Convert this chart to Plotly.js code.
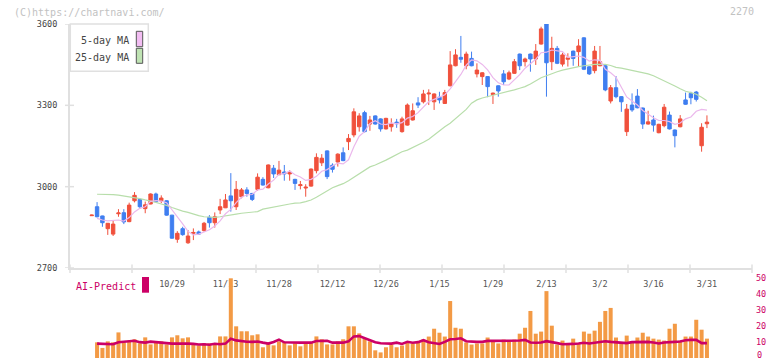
<!DOCTYPE html>
<html><head><meta charset="utf-8">
<script src="https://cdn.plot.ly/plotly-3.0.1.min.js"></script>
<style>html,body{margin:0;padding:0;background:#fff}#chart{width:772px;height:361px}</style>
</head><body><div id="chart"></div>
<script>
const dates = ["10/7","10/8","10/9","10/10","10/14","10/15","10/16","10/17","10/20","10/21","10/22","10/23","10/24","10/27","10/28","10/29","10/30","10/31",
"11/4","11/5","11/6","11/7","11/10","11/11","11/12","11/13","11/14","11/17","11/18","11/19","11/20","11/21","11/25","11/26","11/27","11/28",
"12/1","12/2","12/3","12/4","12/5","12/8","12/9","12/10","12/11","12/12","12/15","12/16","12/17","12/18","12/19","12/22","12/23","12/24","12/25","12/26",
"12/29","12/30","1/5","1/6","1/7","1/8","1/9","1/13","1/14","1/15","1/16","1/19","1/20","1/21","1/22","1/23","1/26","1/27","1/28","1/29",
"1/30","2/2","2/3","2/4","2/5","2/6","2/9","2/10","2/12","2/13","2/16","2/17","2/18","2/19","2/20","2/24","2/25","2/26","2/27","3/2",
"3/3","3/4","3/5","3/6","3/9","3/10","3/11","3/12","3/13","3/16","3/17","3/18","3/19","3/23","3/24","3/25","3/26","3/27","3/30","3/31"];
const tickLabels = ["10/29","11/13","11/28","12/12","12/26","1/15","1/29","2/13","3/2","3/16","3/31"];
const priceTicks = [2700,3000,3300,3600];
const volumeTicks = [0,10,20,30,40,50];

const openP = [2893,2926,2892,2845,2825,2900,2904,2871,2948,2953,2919,2936,2973,2948,2948,2895,2806,2845,2793,2828,
2833,2838,2887,2867,2914,2922,2966,2926,2963,2988,2975,2990,3027,2996,3068,3044,3054,3047,3027,3004,
2995,3002,3059,3088,3132,3079,3091,3125,3166,3191,3221,3273,3231,3261,3250,3213,3221,3238,3203,3227,
3246,3309,3313,3342,3313,3330,3307,3372,3446,3477,3446,3473,3416,3406,3406,3340,3372,3416,3397,3418,
3489,3461,3489,3471,3526,3600,3461,3510,3452,3470,3500,3498,3549,3442,3428,3446,3446,3316,3365,3332,
3203,3301,3334,3290,3231,3246,3199,3225,3264,3209,3221,3320,3344,3349,3151,3232];
const highP = [2897,2943,2893,2866,2874,2917,2917,2941,2980,2955,2945,2975,2978,2968,2950,2896,2836,2852,2840,2846,
2838,2870,2895,2905,2955,2973,3050,3021,2995,2998,2977,3049,3035,3082,3080,3095,3080,3061,3029,3021,
3009,3067,3123,3120,3134,3086,3123,3145,3194,3289,3271,3280,3261,3263,3252,3254,3252,3250,3258,3307,
3307,3330,3357,3359,3344,3350,3357,3500,3507,3556,3498,3498,3455,3422,3408,3347,3374,3430,3428,3471,
3491,3476,3491,3526,3590,3602,3553,3519,3494,3492,3502,3544,3551,3444,3519,3519,3448,3375,3408,3334,
3305,3344,3360,3292,3280,3262,3232,3305,3277,3211,3264,3347,3350,3353,3234,3263];
const lowP = [2892,2887,2852,2822,2818,2889,2862,2869,2942,2919,2902,2935,2944,2939,2893,2808,2793,2819,2789,2803,
2822,2834,2849,2849,2899,2921,2908,2914,2957,2963,2947,2985,3004,2994,3032,3043,3022,3022,2988,2990,
2963,3000,3049,3076,3028,3052,3074,3094,3135,3182,3203,3200,3206,3229,3203,3211,3203,3217,3199,3225,
3244,3290,3307,3301,3283,3307,3305,3370,3444,3457,3433,3444,3403,3375,3330,3305,3332,3375,3393,3416,
3430,3443,3424,3449,3524,3332,3430,3452,3443,3443,3446,3443,3430,3412,3418,3444,3352,3307,3326,3276,
3187,3276,3289,3213,3229,3203,3197,3219,3211,3145,3219,3302,3304,3314,3129,3216];
const closeP = [2895,2889,2867,2865,2862,2903,2870,2932,2968,2926,2933,2973,2945,2958,2895,2810,2828,2823,2818,2831,
2825,2865,2867,2889,2926,2951,2948,2990,2988,2975,2953,3035,3006,3080,3047,3061,3047,3053,3012,3007,
2998,3065,3108,3105,3037,3064,3120,3096,3178,3276,3261,3203,3246,3231,3213,3252,3231,3232,3250,3301,
3280,3301,3342,3345,3342,3320,3347,3449,3486,3470,3489,3446,3430,3420,3369,3345,3353,3387,3420,3461,
3446,3471,3471,3500,3582,3457,3510,3455,3486,3475,3473,3519,3433,3416,3500,3461,3357,3365,3332,3313,
3286,3283,3291,3231,3239,3227,3230,3293,3213,3188,3250,3304,3328,3322,3219,3238];

const ma5Head = [null,2883,2877,2874];
const ma25 = [null,2972,2972,2972,2971,2969,2966,2963,2960,2956,2951,2947,2942,2936,2931,2923,2916,2910,2905,2898,
2893,2889,2887,2887,2889,2893,2896,2899,2902,2904,2905,2908,2917,2921,2926,2930,2933,2936,2939,2940,
2945,2951,2961,2973,2984,2996,3004,3011,3022,3035,3047,3061,3073,3080,3088,3098,3108,3118,3129,3135,
3144,3154,3164,3175,3191,3205,3221,3234,3250,3267,3285,3308,3320,3327,3332,3337,3341,3347,3350,3357,
3363,3369,3379,3391,3402,3409,3418,3424,3430,3435,3439,3443,3446,3449,3451,3451,3451,3447,3440,3437,
3433,3429,3426,3420,3416,3409,3400,3390,3381,3371,3361,3352,3347,3341,3330,3317];

const volume = [null,9.8,6.3,10.4,9.8,16,9.8,10.4,11.7,9.2,12.9,8.5,9.8,10.4,8.5,12.9,14.2,12.3,12.9,8.5,
7.9,9.2,9.2,8.5,13.5,13.5,49.8,19.8,16.7,16.7,14.2,14.8,6.7,9.2,7.9,10.4,9.8,7.9,9.2,7.3,
9.8,9.8,13.5,11.7,8.5,8.5,10.4,11.7,19.8,19.8,15.4,12.3,10.4,4.8,3.5,6.7,8.5,6.7,7.8,9.7,
9.1,9.7,11.5,13.4,18.3,15.8,13.4,35.6,18.9,18.3,9.7,8.4,9.1,9.1,12.8,10.9,9.1,11.5,10.9,11.5,
15.2,18.9,29.4,15.2,16.5,41.8,20.2,8.4,10.9,8.4,12.1,9.1,16.5,15.2,17.1,22.6,29.4,31.3,12.8,9.7,
14,9.7,12.8,15.8,13.4,12.1,11.5,10.9,18.3,21.4,10.9,13.4,13.4,23.9,17.7,12.1];
const aiPredict = [null,9.0,8.8,8.6,8.6,9.8,10.2,10.6,10.8,9.9,9.6,10.2,9.8,9.6,9.0,9.0,9.0,9.2,9.0,8.8,
8.4,8.6,8.3,8.9,8.6,9.0,12.0,11.0,10.5,10.2,10.1,10.3,9.6,9.0,10.0,11.5,9.8,9.6,9.6,9.6,
9.6,9.6,10.6,10.8,10.8,9.6,9.6,9.6,10.4,13.5,13.7,12.5,11.0,9.8,9.2,9.0,9.0,9.6,8.8,10.1,
9.5,9.9,11.1,9.9,9.3,8.8,10.1,11.7,11.9,12.3,10.5,10.1,10.1,10.1,10.7,10.7,10.7,11.1,10.9,11.1,
10.9,11.3,9.7,9.5,9.7,10.5,10.1,9.3,8.6,8.6,8.8,9.1,9.5,9.1,9.7,10.1,10.5,10.1,9.7,9.3,
9.3,9.9,10.1,10.1,10.1,9.7,9.1,9.7,9.7,10.1,10.3,11.1,11.3,11.3,9.3,9.3];

// 5-day moving average of the closes (first points)
const ma5 = closeP.map((c, i) => i < 4 ? ma5Head[i] :
  Math.round((closeP[i] + closeP[i-1] + closeP[i-2] + closeP[i-3] + closeP[i-4]) / 5));

const W = 772, H = 361, L = 70, R = 20;
const px = v => (v - L) / (W - L - R);
const py = v => (H - v) / H;
const MONO = 'DejaVu Sans Mono, monospace';
const RED = '#f0503c', BLUE = '#3f7ef0', GRID = '#e0e0e0', MAGENTA = '#cc0066';

const traces = [
  {type:'scatter', mode:'lines', x:dates, y:ma25, line:{color:'#b8deab', width:1.2}, hoverinfo:'none', xaxis:'x', yaxis:'y'},
  {type:'scatter', mode:'lines', x:dates, y:ma5, line:{color:'#ebb8ec', width:1.2}, hoverinfo:'none', xaxis:'x', yaxis:'y'},
  {type:'candlestick', x:dates, open:openP, high:highP, low:lowP, close:closeP, xaxis:'x', yaxis:'y',
   increasing:{line:{color:RED, width:1}, fillcolor:RED},
   decreasing:{line:{color:BLUE, width:1}, fillcolor:BLUE},
   whiskerwidth:0, hoverinfo:'none'},
  {type:'bar', x:dates, y:volume, xaxis:'x', yaxis:'y2', marker:{color:'#f39a45', line:{width:0}}, width:0.75, hoverinfo:'none'},
  {type:'scatter', mode:'lines', x:dates, y:aiPredict, xaxis:'x', yaxis:'y2', line:{color:MAGENTA, width:2.6}, hoverinfo:'none'}
];

const shapes = [];
for (let k = 0; k <= 11; k++) {
  shapes.push({type:'line', xref:'paper', yref:'paper', x0:k/11, x1:k/11, y0:py(264.5), y1:py(273), line:{color:GRID, width:1.5}});
}
priceTicks.forEach(v => shapes.push({type:'line', xref:'paper', yref:'y', x0:px(65), x1:px(74), y0:v, y1:v, line:{color:GRID, width:1.5}}));
shapes.push({type:'rect', xref:'paper', yref:'paper', x0:px(70.3), x1:px(148.3), y0:py(71.3), y1:py(24), line:{color:GRID, width:1.5}, fillcolor:'#ffffff', layer:'above'});
shapes.push({type:'rect', xref:'paper', yref:'paper', x0:px(136.3), x1:px(142.7), y0:py(46.7), y1:py(31.3), line:{color:'#555', width:1}, fillcolor:'#f2bdf2', layer:'above'});
shapes.push({type:'rect', xref:'paper', yref:'paper', x0:px(136.3), x1:px(142.7), y0:py(63.3), y1:py(48.3), line:{color:'#555', width:1}, fillcolor:'#bfe3b3', layer:'above'});
shapes.push({type:'rect', xref:'paper', yref:'paper', x0:px(142), x1:px(149), y0:py(292.7), y1:py(277), line:{width:0}, fillcolor:MAGENTA});

const ann = (text, x, y, anchor, color, size, yanchor) => ({text, xref:'paper', yref:'paper', x:px(x), y:py(y), xanchor:anchor, yanchor:yanchor || 'middle', showarrow:false, borderpad:0, font:{family:MONO, size, color}});
const annotations = [
  ann('(C)https://chartnavi.com/', 13, 12, 'left', '#c2c2c2', 10),
  ann('2270', 755, 11, 'right', '#c2c2c2', 10),
  ann('5-day MA', 129.5, 40.5, 'right', '#444', 10),
  ann('25-day MA', 129.5, 57, 'right', '#444', 10),
  ann('AI-Predict', 75, 286, 'left', MAGENTA, 10),
  // the volume axis' bottom label sits on the picture's edge: place it inside
  ann(String(volumeTicks[0]), 755.5, 361, 'left', MAGENTA, 8.5, 'bottom')
];

const layout = {
  width:W, height:H, margin:{l:L, r:R, t:0, b:0}, paper_bgcolor:'#fff', plot_bgcolor:'#fff',
  showlegend:false, dragmode:false, boxgap:0.36, boxgroupgap:0,
  xaxis:{type:'category', range:[-4.06,123.42], domain:[0,1], anchor:'y', showline:true, linecolor:GRID, linewidth:2,
    tickmode:'array', tickvals:tickLabels, ticktext:tickLabels, ticks:'', showgrid:false, zeroline:false,
    tickfont:{family:MONO, size:8.5, color:'#555'}, ticklabelstandoff:7, rangeslider:{visible:false}, fixedrange:true},
  yaxis:{domain:[py(268), py(24)], range:[2700,3600], tickmode:'array', tickvals:priceTicks, ticks:'',
    showline:true, linecolor:GRID, linewidth:2, showgrid:false, zeroline:false, ticklabelstandoff:9,
    tickfont:{family:MONO, size:8.5, color:'#444'}, fixedrange:true},
  yaxis2:{domain:[py(358), py(278)], range:[0,50], side:'right', anchor:'x', tickmode:'array', tickvals:volumeTicks.slice(1),
    ticks:'', showline:false, showgrid:false, zeroline:false, ticklabelstandoff:3,
    tickfont:{family:MONO, size:8.5, color:MAGENTA}, fixedrange:true},
  shapes, annotations
};
Plotly.newPlot('chart', traces, layout, {displayModeBar:false, staticPlot:true});
</script></body></html>
